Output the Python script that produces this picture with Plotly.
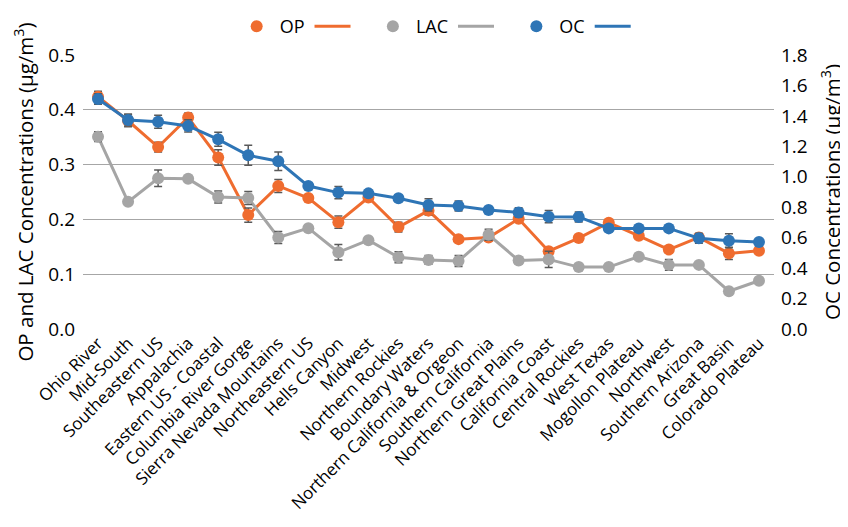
import plotly.graph_objects as go

categories = ["Ohio River", "Mid-South", "Southeastern US", "Appalachia", "Eastern US - Coastal",
              "Columbia River Gorge", "Sierra Nevada Mountains", "Northeastern US", "Hells Canyon",
              "Midwest", "Northern Rockies", "Boundary Waters", "Northern California & Orgeon",
              "Southern California", "Northern Great Plains", "California Coast", "Central Rockies",
              "West Texas", "Mogollon Plateau", "Northwest", "Southern Arizona", "Great Basin",
              "Colorado Plateau"]

op = [0.424, 0.380, 0.332, 0.386, 0.313, 0.208, 0.261, 0.239, 0.195, 0.240, 0.186, 0.216,
      0.164, 0.167, 0.201, 0.142, 0.166, 0.194, 0.170, 0.145, 0.167, 0.138, 0.143]
op_err = [0.010, 0.011, 0.009, 0.008, 0.014, 0.013, 0.012, 0.006, 0.011, 0.005, 0.009, 0.008,
          0.005, 0.004, 0.005, 0.006, 0.004, 0.004, 0.004, 0.006, 0.004, 0.011, 0.005]

lac = [0.351, 0.232, 0.275, 0.274, 0.241, 0.239, 0.167, 0.184, 0.140, 0.162, 0.131, 0.126,
       0.124, 0.172, 0.125, 0.127, 0.113, 0.113, 0.132, 0.117, 0.117, 0.069, 0.088]
lac_err = [0.009, 0.004, 0.015, 0.004, 0.011, 0.012, 0.011, 0.004, 0.014, 0.004, 0.010, 0.008,
           0.010, 0.010, 0.006, 0.015, 0.005, 0.004, 0.004, 0.010, 0.004, 0.005, 0.004]

oc = [1.511, 1.373, 1.362, 1.334, 1.246, 1.141, 1.102, 0.939, 0.896, 0.891, 0.859, 0.815,
      0.808, 0.782, 0.766, 0.738, 0.736, 0.661, 0.661, 0.661, 0.596, 0.580, 0.572]
oc_err = [0.035, 0.040, 0.043, 0.040, 0.046, 0.066, 0.060, 0.020, 0.040, 0.020, 0.020, 0.040,
          0.033, 0.020, 0.030, 0.040, 0.033, 0.020, 0.020, 0.020, 0.033, 0.046, 0.020]

series = [
    ("OP", op, op_err, "#EF6C2F", "y"),
    ("LAC", lac, lac_err, "#A5A5A5", "y"),
    ("OC", oc, oc_err, "#2E75B6", "y2"),
]

FONT = "Open Sans"
ERR_COLOR = "#595959"

fig = go.Figure()
rank = 1
for name, vals, errs, color, yax in series:
    fig.add_trace(go.Scatter(
        x=categories, y=vals, yaxis=yax, mode="lines", name="\u00a0\u00a0",
        line=dict(color=color, width=3), legendrank=rank + 1, hoverinfo="skip"))
    fig.add_trace(go.Scatter(
        x=categories, y=vals, yaxis=yax, mode="markers", name=name,
        marker=dict(color=color, size=12),
        error_y=dict(type="data", array=errs, visible=True, color=ERR_COLOR,
                     thickness=1.5, width=4),
        legendrank=rank))
    rank += 2

fig.update_layout(
    width=848, height=527,
    margin=dict(l=75, r=82, t=47, b=206, autoexpand=False),
    paper_bgcolor="white", plot_bgcolor="white",
    font=dict(family=FONT, size=17, color="#000000"),
    showlegend=True,
    legend=dict(orientation="h", x=0.512, xanchor="center", xref="container",
                y=1.0, yanchor="top", yref="container",
                font=dict(size=18, family=FONT),
                itemwidth=36, traceorder="normal", bgcolor="rgba(0,0,0,0)"),
    xaxis=dict(type="category", range=[-0.5, len(categories) - 0.5], tickangle=-45,
               showgrid=False, showline=False, ticks="", tickfont=dict(size=17, family=FONT),
               automargin=False),
    yaxis=dict(range=[0, 0.5], dtick=0.1, tickformat=".1f", showgrid=True,
               gridcolor="#A6A6A6", gridwidth=1, zeroline=False, showline=False,
               ticks="", tickfont=dict(size=19, family=FONT), automargin=False,
               ticklabelstandoff=7,
               title=dict(text="OP and LAC Concentrations (μg/m<sup>3</sup>)",
                          font=dict(size=20.5, family=FONT), standoff=9)),
    yaxis2=dict(range=[0, 1.8], dtick=0.2, tickformat=".1f", overlaying="y", side="right",
                showgrid=False, zeroline=False, showline=False, ticks="", automargin=False,
                tickfont=dict(size=19, family=FONT), ticklabelstandoff=6,
                title=dict(text="OC Concentrations (μg/m<sup>3</sup>)",
                           font=dict(size=20.5, family=FONT), standoff=18)),
)

fig.write_html("out.html")
